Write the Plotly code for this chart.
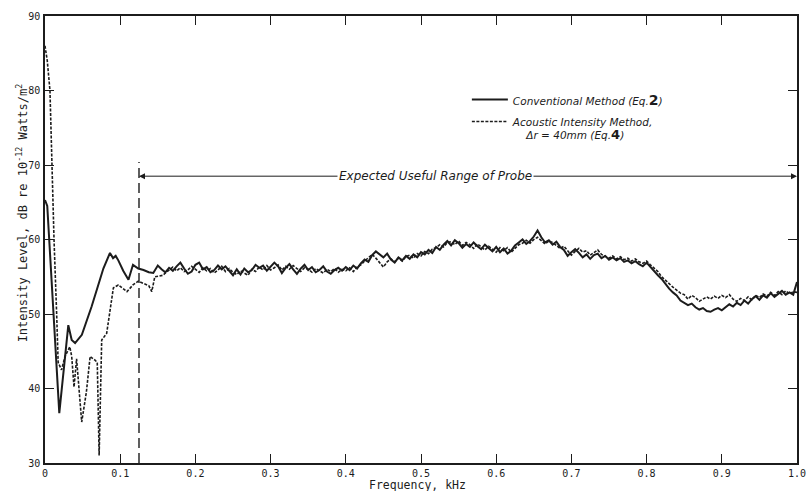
import plotly.graph_objects as go

# ---------------- data ----------------
# Conventional method (solid) - low-frequency part, irregular sampling
conv_low_f = [0.0, 0.003, 0.019, 0.031, 0.0355, 0.040, 0.049, 0.062, 0.073, 0.0776,
              0.0864, 0.0905, 0.094, 0.0975, 0.104, 0.111, 0.117, 0.124, 0.131, 0.138, 0.144]
conv_low_db = [65.3, 64.5, 36.7, 48.5, 46.5, 46.1, 47.2, 51.0, 54.6, 56.1,
               58.2, 57.5, 57.8, 57.2, 55.8, 54.6, 56.6, 56.1, 55.9, 55.6, 55.5]

# Conventional method - 0.150 ... 1.000 kHz, every 0.005 kHz
conv_start, step = 0.150, 0.005
conv_db = [
    56.5, 56.0, 55.6, 56.2, 55.8, 56.4, 56.9, 56.1, 55.4, 55.7,
    56.6, 56.9, 56.0, 56.3, 55.6, 55.9, 56.5, 56.0, 56.4, 55.8,
    55.2, 56.0, 55.3, 56.1, 55.6, 55.9, 56.6, 56.2, 56.5, 55.8,
    56.3, 56.9, 56.4, 55.5, 56.2, 56.7, 56.0, 55.4, 56.1, 56.6,
    55.9, 56.3, 55.6, 55.9, 56.4, 55.7, 55.4, 55.9, 56.2, 55.8,
    56.3, 55.9, 56.5, 56.1, 56.8, 57.3, 57.0, 57.9, 58.4, 58.0,
    57.6, 58.1, 57.3, 56.9, 57.6, 57.2, 57.8, 57.4, 58.0, 57.6,
    58.3, 58.0, 58.6, 58.2, 59.0, 58.6, 59.3, 59.8, 59.2, 59.9,
    59.5, 58.9, 59.4, 59.0, 59.6, 59.1, 58.7, 59.3, 58.8, 58.4,
    59.0, 58.3, 58.8, 58.1, 58.5, 59.2, 59.6, 60.0, 59.4, 59.8,
    60.4, 61.2, 60.3, 59.6, 59.9, 59.3, 59.7, 59.0, 58.6, 57.8,
    58.3, 58.7, 58.2, 57.6, 58.0, 57.4, 57.9, 58.1, 57.5, 57.8,
    57.3, 57.6, 57.2, 57.5, 57.0, 57.2, 56.8, 57.1, 56.7, 56.4,
    56.9, 56.3, 55.8, 55.2, 54.7, 54.0, 53.4, 52.9, 52.5, 51.8,
    51.5, 51.2, 51.4, 50.9, 50.6, 50.8, 50.4, 50.3, 50.6, 50.8,
    50.5, 50.9, 51.3, 51.0, 51.5, 51.2, 51.8, 51.4, 52.0, 52.4,
    51.9, 52.5, 52.2, 52.8, 52.3, 52.7, 53.1, 52.6, 52.9, 52.6,
    54.3,
]

# Acoustic intensity method (dashed) - low-frequency part
ai_low_f = [0.0, 0.003, 0.0066, 0.009, 0.012, 0.0155, 0.0175, 0.022, 0.0266, 0.030,
            0.033, 0.0355, 0.0386, 0.042, 0.045, 0.0488, 0.055, 0.060, 0.0665, 0.0695,
            0.072, 0.0754, 0.082, 0.0909, 0.0975, 0.103, 0.109, 0.117, 0.124, 0.131,
            0.138, 0.142, 0.146, 0.152, 0.157]
ai_low_db = [86.0, 84.0, 80.0, 70.0, 60.0, 50.0, 43.5, 42.5, 44.3, 45.0,
             45.6, 44.3, 40.2, 44.0, 40.0, 35.5, 39.5, 44.3, 43.8, 43.5,
             31.0, 46.5, 47.4, 53.5, 53.9, 53.5, 53.0, 53.9, 54.4, 54.1,
             53.8, 53.0, 55.0, 55.1, 55.2]

# Acoustic intensity method - 0.160 ... 1.000 kHz, every 0.005 kHz
ai_start = 0.160
ai_db = [
    55.5, 55.9, 56.3, 55.8, 56.2, 55.7, 55.9, 56.4, 56.0, 55.6,
    56.2, 55.8, 56.1, 55.5, 55.9, 56.4, 55.7, 56.1, 55.6, 55.3,
    55.8, 55.5, 55.2, 56.0, 55.7, 56.3, 55.9, 56.5, 55.9, 56.2,
    56.6, 55.9, 56.4, 56.0, 56.5, 56.1, 55.7, 56.2, 56.0, 55.6,
    56.1, 55.8, 55.5, 56.0, 55.7, 56.1, 55.6, 56.0, 55.8, 56.2,
    55.7, 56.3, 56.6, 57.1, 57.6, 58.0, 57.5, 56.9, 56.3, 57.0,
    57.4, 57.0, 57.5, 57.1, 57.7, 57.9, 57.5, 58.1, 57.8, 58.4,
    58.1, 58.7, 58.9, 59.3, 59.0, 59.6, 59.7, 59.3, 59.8, 59.2,
    59.6, 59.3, 58.8, 59.4, 59.0, 58.6, 59.1, 58.7, 58.3, 58.9,
    58.5, 58.9, 58.3, 58.8, 59.3, 59.5, 59.9, 59.5, 60.0, 60.3,
    59.8, 59.4, 59.8, 59.6, 59.2, 58.8, 59.1, 58.5, 57.9, 58.4,
    58.8, 58.3, 58.5, 57.9, 58.2, 58.6, 58.0, 57.7, 57.5, 57.8,
    57.4, 57.7, 57.3, 57.5, 57.1, 57.4, 57.0, 56.8, 57.1, 56.6,
    56.2, 55.7, 55.0, 54.5, 54.0, 53.6, 53.2, 52.8, 52.6, 52.0,
    52.5, 52.2, 51.7, 52.0, 52.3, 52.0, 52.4, 52.1, 52.5, 52.2,
    52.6, 52.0, 51.7, 52.1, 51.8, 52.3, 51.9, 52.5, 52.2, 52.7,
    52.4, 52.9, 52.5, 53.0, 52.6, 53.1, 52.7, 53.0, 52.9,
]

x_tickvals = [0.0, 0.1, 0.2, 0.3, 0.4, 0.5, 0.6, 0.7, 0.8, 0.9, 1.0]
x_ticktext = ["0", "0.1", "0.2", "0.3", "0.4", "0.5", "0.6", "0.7", "0.8", "0.9", "1.0"]
y_tickvals = [30, 40, 50, 60, 70, 80, 90]

probe_range_start = 0.125   # kHz, expected lower limit of the probe
probe_range_end = 1.0
probe_marker_top = 70.4     # dB, top of dashed vertical marker
probe_arrow_level = 68.5    # dB, level of the range arrow

# ---------------- build ----------------
conv_f = conv_low_f + [round(conv_start + step * i, 4) for i in range(len(conv_db))]
conv_y = conv_low_db + conv_db
ai_f = ai_low_f + [round(ai_start + step * i, 4) for i in range(len(ai_db))]
ai_y = ai_low_db + ai_db

INK = "#1c1c1c"
MONO = "DejaVu Sans Mono"

fig = go.Figure()
fig.add_trace(go.Scatter(
    x=conv_f, y=conv_y, mode="lines", legendgroup="conv",
    name="<i>Conventional Method (Eq.</i><b><span style='font-size:14px'>2</span></b><i>)</i>",
    line=dict(color=INK, width=2),
))
fig.add_trace(go.Scatter(
    x=ai_f, y=ai_y, mode="lines", legendgroup="ai",
    name="<i>Acoustic Intensity Method,</i><br>    <i>\u0394r = 40mm (Eq.</i><b><span style='font-size:13px'>4</span></b><i>)</i>",
    line=dict(color=INK, width=1.6, dash="3px,1.5px"),
))

# dashed vertical marker at lower probe limit
fig.add_shape(type="line", x0=probe_range_start, x1=probe_range_start, y0=30, y1=probe_marker_top,
              xref="x", yref="y", line=dict(color=INK, width=1.4, dash="10px,5px"))

# range arrows
fig.add_annotation(x=probe_range_start, y=probe_arrow_level, ax=0.40, ay=probe_arrow_level,
                   xref="x", yref="y", axref="x", ayref="y", text="", showarrow=True,
                   arrowhead=2, arrowsize=1.2, arrowwidth=1, arrowcolor=INK)
fig.add_annotation(x=probe_range_end, y=probe_arrow_level, ax=0.64, ay=probe_arrow_level,
                   xref="x", yref="y", axref="x", ayref="y", text="", showarrow=True,
                   arrowhead=2, arrowsize=1.2, arrowwidth=1, arrowcolor=INK)
fig.add_annotation(x=0.519, y=probe_arrow_level, xref="x", yref="y",
                   text="<i>Expected Useful Range of Probe</i>", showarrow=False,
                   bgcolor="white", borderpad=1,
                   font=dict(family="DejaVu Sans", size=12, color=INK))

# y axis title
fig.add_annotation(x=-0.031, y=0.56, xref="paper", yref="paper", textangle=-90,
                   xanchor="center", yanchor="middle",
                   text="Intensity Level, dB re 10<sup>-12</sup> Watts/m<sup>2</sup>",
                   showarrow=False, font=dict(family=MONO, size=12, color=INK))
# x axis title
fig.add_annotation(x=0.495, y=-0.049, xref="paper", yref="paper", yanchor="middle",
                   text="Frequency, kHz", showarrow=False,
                   font=dict(family=MONO, size=11.5, color=INK))

fig.update_layout(
    width=807, height=491,
    margin=dict(l=45, r=10, t=16, b=28, autoexpand=False),
    paper_bgcolor="white", plot_bgcolor="white",
    showlegend=True,
    legend=dict(x=0.561, y=0.843, xanchor="left", yanchor="top",
                bgcolor="rgba(0,0,0,0)", itemwidth=36, valign="top",
                font=dict(family="DejaVu Sans", size=10.5, color=INK),
                tracegroupgap=3),
)
fig.update_xaxes(range=[0, 1.0], tickvals=x_tickvals, ticktext=x_ticktext, automargin=False,
                 showgrid=False, zeroline=False, showline=True, linecolor=INK, linewidth=1.5,
                 mirror="ticks", ticks="inside", ticklen=9, tickwidth=1.2, tickcolor=INK,
                 tickfont=dict(family=MONO, size=10, color=INK))
fig.update_yaxes(range=[30, 90], tickvals=y_tickvals, automargin=False,
                 showgrid=False, zeroline=False, showline=True, linecolor=INK, linewidth=1.5,
                 mirror="ticks", ticks="inside", ticklen=9, tickwidth=1.2, tickcolor=INK,
                 ticklabelstandoff=1,
                 tickfont=dict(family=MONO, size=10, color=INK))

fig.write_html("out.html", config={"displayModeBar": False},
               post_script="document.body.style.margin='0';document.body.style.overflow='hidden';")
